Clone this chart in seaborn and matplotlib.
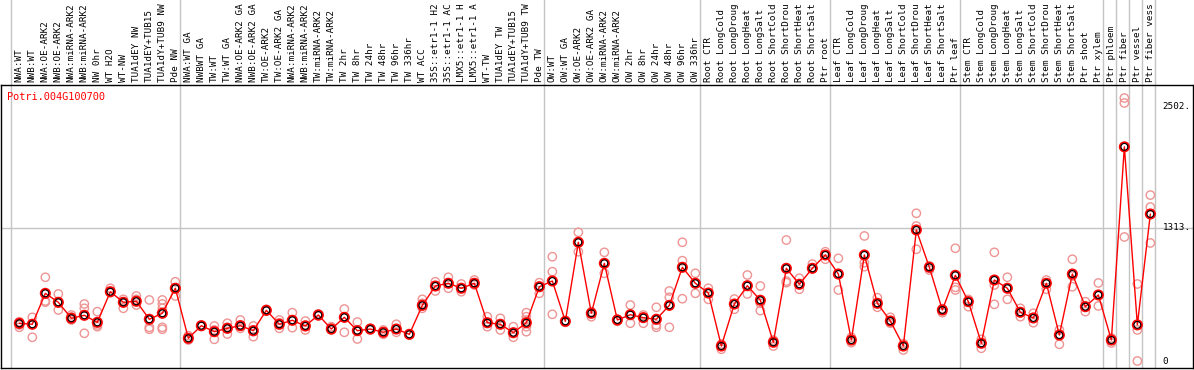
import matplotlib
matplotlib.use("Agg")
import matplotlib.pyplot as plt
import matplotlib.transforms as mtransforms
import seaborn as sns
import pandas as pd

title = "Potri.004G100700"

labels = [
    # group 1
    "NWA:WT", "NWB:WT", "NWA:OE-ARK2", "NWB:OE-ARK2", "NWA:miRNA-ARK2", "NWB:miRNA-ARK2",
    "NW 0hr", "WT H2O", "WT-NW", "TUA1dEY NW", "TUA1dEY+TUB15", "TUA1dY+TUB9 NW", "Pde NW",
    # group 2
    "NWA:WT GA", "NWBWT GA", "TW:WT", "TW:WT GA", "NWA:OE-ARK2 GA", "NWB:OE-ARK2 GA",
    "TW:OE-ARK2", "TW:OE-ARK2 GA", "NWA:miRNA-ARK2", "NWB:miRNA-ARK2", "TW:miRNA-ARK2",
    "TW:miRNA-ARK2", "TW 2hr", "TW 8hr", "TW 24hr", "TW 48hr", "TW 96hr", "TW 336hr", "WT ACC",
    "35S::etr1-1 H2", "35S::etr1-1 AC", "LMX5::etr1-1 H", "LMX5::etr1-1 A", "WT-TW",
    "TUA1dEY TW", "TUA1dEY+TUB15", "TUA1dY+TUB9 TW", "Pde TW",
    # group 3
    "OW:WT", "OW:WT GA", "OW:OE-ARK2", "OW:OE-ARK2 GA", "OW:miRNA-ARK2", "OW:miRNA-ARK2",
    "OW 2hr", "OW 8hr", "OW 24hr", "OW 48hr", "OW 96hr", "OW 336hr",
    # root
    "Root CTR", "Root LongCold", "Root LongDroug", "Root LongHeat", "Root LongSalt",
    "Root ShortCold", "Root ShortDrou", "Root ShortHeat", "Root ShortSalt", "Ptr root",
    # leaf
    "Leaf CTR", "Leaf LongCold", "Leaf LongDroug", "Leaf LongHeat", "Leaf LongSalt",
    "Leaf ShortCold", "Leaf ShortDrou", "Leaf ShortHeat", "Leaf ShortSalt", "Ptr leaf",
    # stem
    "Stem CTR", "Stem LongCold", "Stem LongDroug", "Stem LongHeat", "Stem LongSalt",
    "Stem ShortCold", "Stem ShortDrou", "Stem ShortHeat", "Stem ShortSalt", "Ptr shoot", "Ptr xylem",
    # singles
    "Ptr phloem", "Ptr fiber", "Ptr vessel", "Ptr fiber vess",
]

# mean expression per sample
means = [
    375, 366, 670, 582, 425, 454, 385, 686, 582, 592, 415, 474, 720,
    228, 352, 293, 326, 352, 303, 503, 366, 405, 349, 457, 319, 434, 303, 319,
    287, 319, 267, 552, 742, 769, 720, 769, 381, 366, 283, 381, 735,
    791, 395, 1172, 474, 965, 408, 460, 431, 415, 552, 926, 769,
    673, 152, 565, 745, 602, 189, 916, 759, 916, 1047,
    860, 211, 1047, 572, 398, 152, 1293, 926, 506, 847,
    588, 179, 801, 720, 484, 428, 769, 260, 860, 539, 654,
    211, 2110, 360, 1450,
]

# replicate values per sample
reps = [
    [391, 359, 336], [434, 238, 366], [828, 595, 583], [664, 506, 575], [457, 408, 437],
    [565, 523, 277], [490, 359, 342], [720, 686, 676], [611, 523, 575], [644, 555, 611],
    [605, 336, 317], [605, 565, 523, 336, 317], [784, 644, 722],
    [254, 211, 228], [352, 345], [349, 218, 310], [376, 270, 336], [408, 326, 359],
    [349, 244, 293], [513, 496], [408, 326, 381], [480, 332, 408], [398, 310, 359],
    [467, 447], [342, 310, 326], [516, 287, 440], [388, 221, 310], [326, 310],
    [310, 267, 293], [366, 287, 319], [267, 262], [611, 523, 572], [784, 693, 742],
    [828, 720, 769], [762, 686, 720], [801, 752, 769], [440, 342, 381], [425, 310, 366],
    [342, 238, 283], [480, 440, 408, 342, 293], [775, 670, 735],
    [1030, 883, 464], [400, 385], [1270, 1079, 1172], [490, 440], [1073, 867],
    [415, 395], [555, 376], [457, 376], [533, 359, 336], [693, 631, 336],
    [1172, 991, 617], [867, 670],
    [720, 611], [172, 120], [614, 513], [850, 664], [742, 500, 572], [211, 152],
    [1194, 775, 790], [818, 710], [958, 916], [1079, 1005],
    [1014, 703], [238, 185], [1234, 971, 932], [627, 533], [434, 376], [113, 175],
    [1457, 1332, 1103], [899, 940], [480, 520], [1113, 729, 703],
    [611, 539], [218, 130], [1073, 752, 562], [828, 611], [523, 440], [474, 381],
    [801, 710], [310, 169], [1005, 735, 840], [588, 490], [772, 546],
    [231, 182], [2590, 2541, 1224], [762, 310, 5], [1636, 1518, 1165],
]

# last index of each block (a grey divider follows it)
group_ends = [-1, 12, 40, 52, 62, 72, 83, 84, 85, 86, 87]
ref_ticks = [2502, 1313, 0]
ref_tick_text = ["2502.", "1313.", "0"]

mean_df = pd.DataFrame({"pos": range(len(means)), "value": means})
rep_df = pd.DataFrame(
    [(i, v) for i, vals in enumerate(reps) for v in vals], columns=["pos", "value"]
)

sns.set_style("white")
plt.rcParams["font.family"] = ["DejaVu Sans Mono", "DejaVu Sans"]

fig = plt.figure(figsize=(11.94, 3.70), dpi=100)
ax = fig.add_axes([1 / 1194, (370 - 368) / 370, 1192 / 1194, 283 / 370])

grey = "#c4c4c4"
ax.axhline(1313, color=grey, lw=1, zorder=0)
top_extra = 1 + 85 / 283
for g in group_ends:
    ax.axvline(g + 0.36, ymin=0, ymax=top_extra, color=grey, lw=1, clip_on=False, zorder=0)

sns.lineplot(data=mean_df, x="pos", y="value", color="red", lw=1, ax=ax, zorder=2)
sns.scatterplot(data=rep_df, x="pos", y="value", marker="o", s=36, facecolors="none",
                edgecolor="#ee9494", linewidth=1.0, ax=ax, zorder=1)
sns.scatterplot(data=mean_df, x="pos", y="value", marker="o", s=42, facecolors="none",
                edgecolor="red", linewidth=1.5, ax=ax, zorder=3)
sns.scatterplot(data=mean_df, x="pos", y="value", marker="o", s=24, facecolors="none",
                edgecolor="black", linewidth=0.8, ax=ax, zorder=4)

ax.set_xlim(-1.41, 90.28)
ax.set_ylim(-64, 2718)
ax.set_xticks([])
ax.set_yticks([])
ax.set_xlabel("")
ax.set_ylabel("")
for sp in ax.spines.values():
    sp.set_visible(True)
    sp.set_color("black")
    sp.set_linewidth(1)

# sample labels above the frame
lab_trans = mtransforms.blended_transform_factory(ax.transData, ax.transAxes)
for i, lab in enumerate(labels):
    ax.text(i, 1 + 3 / 283, lab, transform=lab_trans, rotation=90, ha="center",
            va="bottom", fontsize=6.7, color="black", clip_on=False)

# reference values at right
ref_trans = mtransforms.blended_transform_factory(ax.transAxes, ax.transData)
for v, t in zip(ref_ticks, ref_tick_text):
    ax.text(0.9745, v, t, transform=ref_trans, ha="left", va="center",
            fontsize=6.7, color="black")

ax.text(6 / 1192, 1 - 12 / 283, title, transform=ax.transAxes, ha="left", va="center",
        fontsize=7.4, color="red")

fig.savefig("out.png", dpi=100)
plt.close(fig)
